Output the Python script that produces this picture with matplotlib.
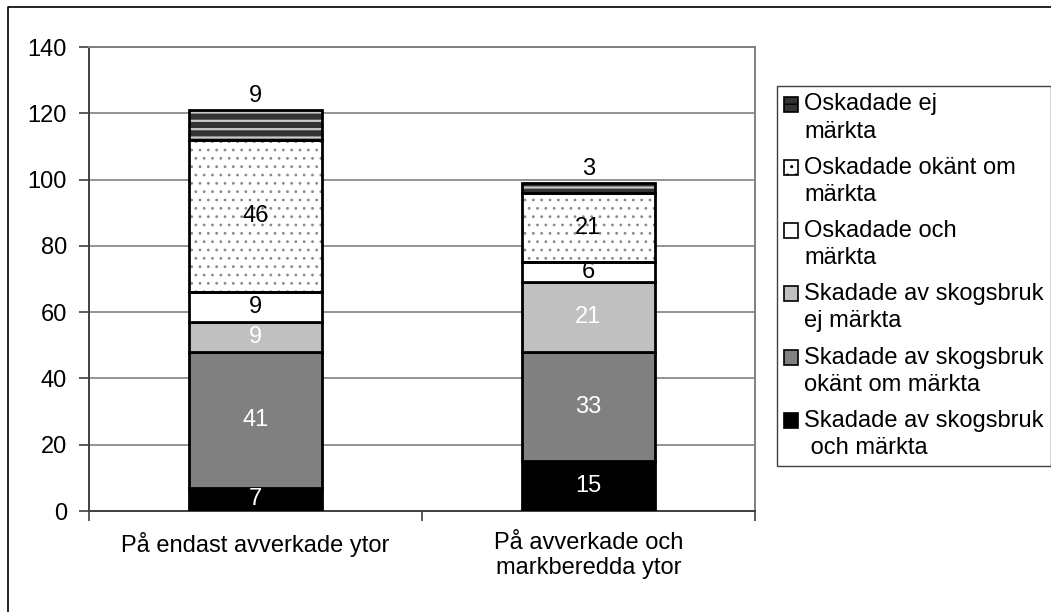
import matplotlib as mpl
import matplotlib.pyplot as plt
from matplotlib.lines import Line2D
from matplotlib.patches import Patch, Rectangle
from matplotlib.legend_handler import HandlerPatch
import numpy as np

mpl.rcParams.update({
    "font.family": "sans-serif",
    "font.sans-serif": ["Liberation Sans", "DejaVu Sans"],
    "font.size": 17,
})

# ---------------- data ----------------
categories = ["På endast avverkade ytor", "På avverkade och\nmarkberedda ytor"]
series = [
    "Skadade av skogsbruk\n och märkta",
    "Skadade av skogsbruk\nokänt om märkta",
    "Skadade av skogsbruk\nej märkta",
    "Oskadade och\nmärkta",
    "Oskadade okänt om\nmärkta",
    "Oskadade ej\nmärkta",
]
values = [
    [7, 15],
    [41, 33],
    [9, 21],
    [9, 6],
    [46, 21],
    [9, 3],
]
yticks = [0, 20, 40, 60, 80, 100, 120, 140]

# ---------------- styles ----------------
faces = ["#000000", "#808080", "#c0c0c0", "#ffffff", "#ffffff", "#333333"]
hatches = [None, None, None, None, "..", "--"]
hatch_cols = [None, None, None, None, "#8a8a8a", "#c8c8c8"]
hatch_lw = [1, 1, 1, 1, 0.8, 1.6]
txt_cols = ["white", "white", "white", "black", "black", "black"]

fig = plt.figure(figsize=(10.51, 6.12), dpi=100)
ax = fig.add_axes([89 / 1051, 1 - 511 / 612, (755 - 89) / 1051, (511 - 47) / 612])

x = np.array([0.5, 1.5])
w = 0.4
bottom = np.zeros(2)
handles = []
for i, (name, vals) in enumerate(zip(series, values)):
    vals = np.array(vals, dtype=float)
    with mpl.rc_context({"hatch.linewidth": hatch_lw[i]}):
        if hatches[i]:
            ax.bar(x, vals, w, bottom=bottom, color=faces[i], hatch=hatches[i],
                   edgecolor=hatch_cols[i], linewidth=0, zorder=3)
        ax.bar(x, vals, w, bottom=bottom, facecolor="none" if hatches[i] else faces[i],
               edgecolor="black", linewidth=2, zorder=4)
        handles.append(Patch(facecolor=faces[i], hatch=hatches[i],
                             edgecolor="black", linewidth=1.2))
    for xi, b, v in zip(x, bottom, vals):
        if i == len(series) - 1:
            ax.text(xi, b + v + 0.8, f"{v:.0f}", ha="center", va="bottom",
                    color="black", zorder=5)
        else:
            ax.text(xi, b + v / 2, f"{v:.0f}", ha="center", va="center",
                    color=txt_cols[i], zorder=5)
    bottom += vals

ax.set_xlim(0, 2)
ax.set_ylim(0, 140)
ax.set_yticks(yticks)
ax.set_xticks([0, 1, 2])
ax.set_xticklabels([])
ax.set_xticks(x, minor=True)
ax.set_xticklabels(categories, minor=True)
ax.tick_params(axis="x", which="minor", length=0, pad=15)
ax.tick_params(axis="x", which="major", length=7, width=1.2, color="#404040",
               direction="out")
ax.tick_params(axis="y", length=7, width=1.2, color="#404040", pad=9)
ax.yaxis.grid(True, color="#808080", lw=1.2, zorder=0)
ax.set_axisbelow(True)
for s in ["left", "bottom"]:
    ax.spines[s].set_color("#404040")
    ax.spines[s].set_linewidth(1.4)
for s in ["top", "right"]:
    ax.spines[s].set_color("#808080")
    ax.spines[s].set_linewidth(1.4)


# legend key sits next to the first line of each two-line label
def top_square(legend, orig_handle, xdescent, ydescent, width, height, fontsize):
    return Rectangle((-xdescent, -ydescent + 0.6 * fontsize), width, height)


leg = fig.legend(handles[::-1], series[::-1], loc="lower left",
                 bbox_to_anchor=(777 / 1051, 1 - 466 / 612),
                 frameon=True, fancybox=False, framealpha=1,
                 edgecolor="#404040",
                 handler_map={Patch: HandlerPatch(patch_func=top_square)},
                 handlelength=0.6, handleheight=0.6, handletextpad=0.25,
                 labelspacing=0.6, borderpad=0.3, borderaxespad=0)
leg.get_frame().set_linewidth(1.0)
for t in leg.get_texts():
    t.set_linespacing(1.3)

# outer chart border (left and top visible)
fig.add_artist(Line2D([8 / 1051, 8 / 1051, 1.0], [0.0, 1 - 7 / 612, 1 - 7 / 612],
                      transform=fig.transFigure, color="black", lw=1.2))

fig.savefig("out.png", dpi=100)
